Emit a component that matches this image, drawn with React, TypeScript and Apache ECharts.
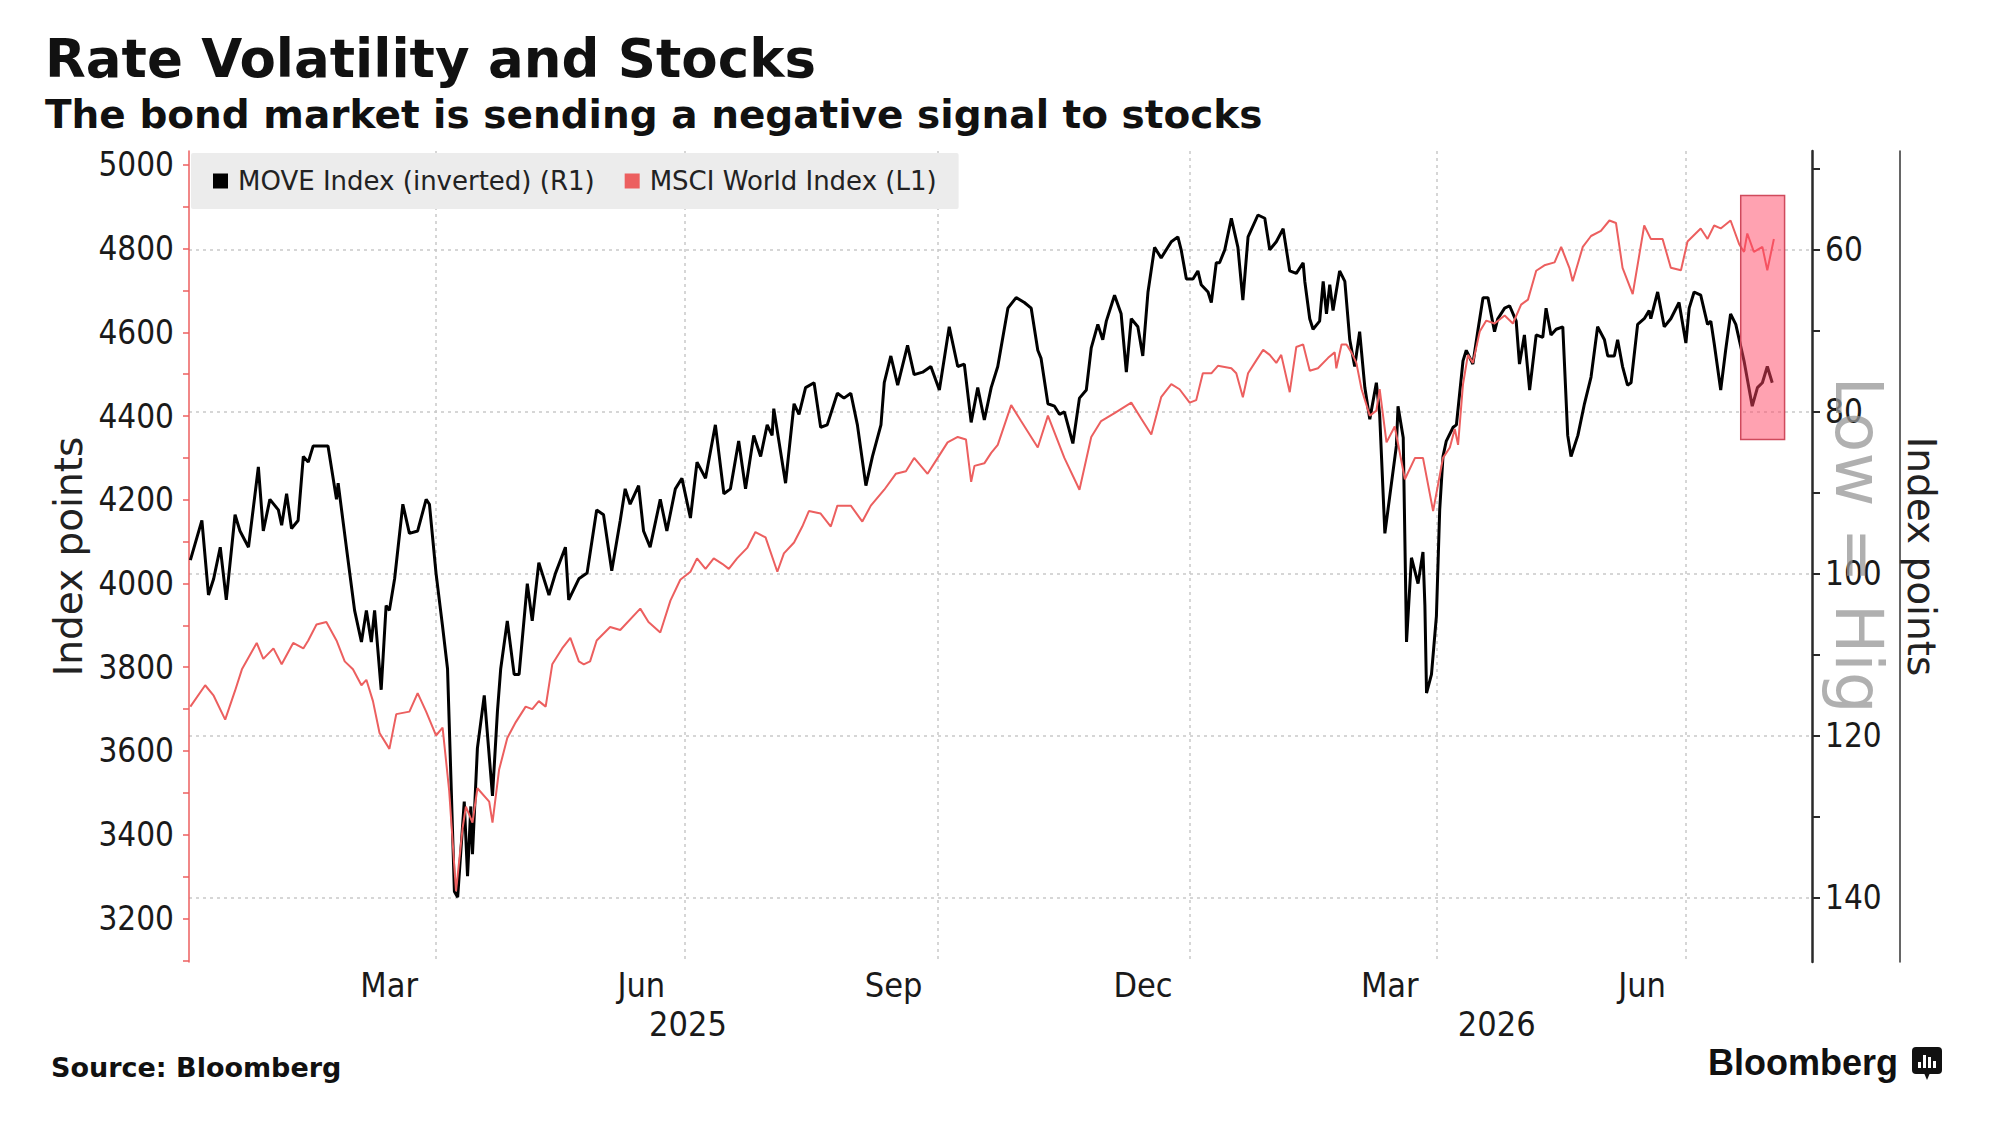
import { useEffect, useRef } from "react";
import * as echarts from "echarts";

// x values are days counted from 1 Jan 2025
const moveDays = [
  0.5, 4.7, 7.1, 9.0, 11.4, 13.6, 16.8, 18.6, 21.7, 25.3, 27.1, 29.5, 32.6, 33.8, 35.6, 37.4, 39.8, 41.7, 43.5, 45.3,
  50.7, 53.8, 54.4, 57.4, 60.4, 62.9, 64.7, 66.5, 67.7, 70.1, 71.9, 73.1, 75.0, 78.0, 80.4, 83.4, 86.5, 87.7, 90.1, 92.5,
  94.3, 95.5, 96.8, 98.0, 100.4, 101.6, 102.8, 103.4, 105.2, 107.7, 110.7, 112.5, 113.7, 116.1, 118.6, 120.4, 123.4, 125.2, 127.6, 131.3,
  133.7, 137.3, 138.5, 142.2, 145.2, 148.7, 151.2, 154.2, 157.3, 159.1, 160.9, 164.0, 165.8, 168.2, 171.9, 174.3, 177.4, 179.8, 182.9, 185.3,
  188.4, 192.0, 195.1, 197.5, 200.5, 203.0, 206.0, 208.5, 210.9, 212.7, 213.3, 217.6, 220.7, 222.5, 224.9, 228.0, 230.4, 232.8, 236.5, 238.9,
  241.4, 243.8, 246.9, 249.3, 252.4, 253.6, 256.0, 258.5, 262.1, 264.5, 267.6, 270.6, 273.7, 277.3, 280.4, 282.8, 285.3, 287.7, 290.1, 292.6,
  295.0, 298.7, 301.7, 304.7, 307.2, 309.6, 310.8, 313.3, 315.7, 317.5, 319.3, 322.4, 324.8, 327.3, 329.1, 331.5, 333.3, 334.6, 337.6, 340.0,
  341.9, 343.7, 346.1, 347.9, 349.8, 352.2, 354.6, 358.3, 360.7, 361.9, 363.8, 366.2, 368.0, 369.2, 371.7, 372.9, 374.7, 375.9, 377.8, 380.2,
  382.6, 384.4, 386.3, 389.9, 392.4, 394.2, 396.6, 399.1, 401.5, 403.9, 406.4, 407.0, 408.8, 410.0, 412.4, 413.7, 414.9, 416.1, 417.3, 419.7,
  421.6, 423.4, 425.2, 427.0, 428.9, 430.7, 433.1, 434.3, 436.2, 440.4, 441.0, 442.9, 444.1, 445.9, 448.3, 450.1, 450.8, 451.4, 453.2, 455.0,
  456.2, 457.4, 458.6, 461.1, 462.3, 464.7, 465.9, 468.3, 470.2, 472.0, 473.8, 476.2, 477.4, 479.9, 481.7, 484.1, 485.3, 487.1, 489.0, 491.4,
  493.8, 495.0, 496.8, 498.7, 501.1, 502.9, 504.1, 506.6, 509.0, 511.4, 513.8, 516.3, 517.5, 519.9, 521.1, 522.9, 524.7, 526.0, 528.4, 530.8,
  532.6, 533.2, 535.7, 538.1, 540.5, 543.5, 546.0, 547.2, 549.0, 551.4, 553.9, 555.1, 556.3, 558.7, 560.5, 562.3, 564.2, 567.2, 570.2, 572.1,
  573.9, 575.7, 577.5,
];
const moveValues = [
  98.3, 93.4, 102.6, 100.6, 96.7, 103.2, 92.7, 94.7, 96.7, 86.8, 94.7, 90.8, 92.1, 94.0, 90.1, 94.4, 93.4, 85.5, 86.2, 84.2,
  84.2, 90.8, 88.8, 96.7, 104.5, 108.4, 104.5, 108.4, 104.5, 114.3, 103.9, 104.5, 100.6, 91.4, 95.0, 94.7, 90.8, 91.4, 99.9, 106.5,
  111.7, 124.8, 139.2, 139.9, 128.1, 137.3, 128.7, 134.6, 121.5, 115.0, 127.4, 117.0, 111.7, 105.8, 112.4, 112.4, 101.2, 105.8, 98.6, 102.6,
  99.9, 96.7, 103.2, 100.6, 99.9, 92.1, 92.7, 99.6, 93.4, 89.5, 91.4, 89.1, 94.7, 96.7, 90.8, 94.7, 89.5, 88.2, 93.1, 86.2,
  88.2, 81.6, 90.1, 89.5, 83.6, 89.5, 82.9, 85.5, 81.6, 82.9, 79.6, 88.8, 79.0, 80.3, 77.0, 76.4, 81.9, 81.6, 77.7, 78.3,
  77.7, 81.6, 89.1, 85.5, 81.6, 76.4, 73.1, 76.7, 71.8, 75.4, 75.1, 74.4, 77.3, 69.5, 74.4, 74.1, 81.3, 77.0, 81.0, 77.0,
  74.4, 67.2, 65.9, 66.5, 67.2, 72.4, 73.4, 79.0, 79.3, 80.3, 80.0, 83.9, 78.3, 77.3, 72.1, 69.2, 71.1, 68.8, 65.6, 67.9,
  75.1, 68.5, 69.5, 73.1, 65.2, 59.7, 61.0, 59.0, 58.4, 60.0, 63.6, 63.6, 62.6, 64.3, 65.2, 66.5, 61.6, 61.6, 60.0, 56.1,
  59.7, 66.2, 58.4, 55.7, 56.1, 60.0, 59.0, 57.4, 62.6, 62.9, 61.6, 63.9, 68.5, 69.8, 68.8, 63.9, 67.9, 64.3, 67.5, 62.6,
  63.9, 71.1, 74.4, 70.1, 77.0, 80.9, 76.4, 80.3, 95.0, 84.2, 79.3, 83.2, 108.4, 98.0, 101.2, 97.3, 103.9, 114.7, 112.4, 105.2,
  92.1, 85.5, 83.6, 81.9, 81.6, 73.7, 72.4, 74.1, 69.8, 65.9, 65.9, 70.1, 68.5, 67.2, 66.9, 68.8, 74.1, 70.5, 77.3, 70.5,
  70.8, 67.2, 70.5, 69.8, 69.5, 82.9, 85.5, 82.9, 79.0, 75.7, 69.5, 71.1, 73.1, 73.1, 71.1, 74.4, 76.7, 76.4, 69.2, 68.5,
  67.5, 68.5, 65.2, 69.5, 68.5, 66.5, 71.5, 67.2, 65.2, 65.6, 69.2, 68.8, 71.5, 77.3, 72.4, 67.9, 69.2, 73.7, 79.3, 77.0,
  76.4, 74.4, 76.4,
];

const msciDays = [
  0.5, 5.9, 9.0, 13.2, 16.8, 19.3, 24.7, 27.1, 30.8, 33.8, 38.0, 41.7, 43.5, 46.5, 50.1, 53.8, 56.8, 59.8, 62.9, 64.7,
  67.1, 69.5, 73.1, 75.6, 80.4, 83.4, 86.5, 90.1, 92.5, 94.9, 97.4, 99.8, 101.0, 103.4, 105.2, 109.5, 110.7, 113.1, 116.1, 119.2,
  122.8, 125.2, 127.6, 130.1, 132.5, 136.1, 139.1, 142.2, 144.0, 146.3, 148.7, 153.6, 157.3, 164.6, 167.6, 171.9, 175.6, 179.2, 182.9, 185.3,
  188.4, 191.4, 194.5, 196.9, 199.9, 203.6, 206.6, 210.3, 214.6, 217.0, 220.7, 223.7, 226.1, 230.4, 234.1, 236.5, 241.4, 245.6, 248.7, 253.6,
  257.8, 261.5, 264.5, 269.4, 273.1, 276.7, 280.4, 283.4, 285.3, 286.5, 290.1, 292.6, 295.0, 299.9, 303.5, 309.6, 313.3, 319.3, 324.8, 329.1,
  332.7, 337.6, 343.7, 347.3, 351.0, 354.6, 358.3, 361.3, 365.0, 367.4, 369.8, 372.9, 375.3, 380.2, 382.0, 384.4, 386.3, 389.3, 391.8, 394.2,
  396.6, 398.4, 401.5, 403.9, 406.4, 408.8, 411.8, 415.5, 417.9, 418.5, 420.4, 422.2, 424.0, 425.8, 427.7, 430.7, 433.1, 434.3, 436.8, 439.8,
  443.5, 447.2, 450.1, 453.8, 457.4, 459.9, 461.7, 462.9, 464.7, 466.5, 468.3, 470.8, 473.2, 476.2, 479.9, 482.9, 485.9, 488.4, 491.4, 494.4,
  498.1, 500.5, 503.5, 504.7, 508.4, 511.4, 515.0, 518.1, 520.5, 522.9, 526.6, 530.8, 533.2, 537.5, 540.5, 544.2, 546.6, 551.4, 553.9, 556.3,
  558.7, 562.3, 565.4, 567.2, 568.4, 570.8, 573.9, 575.7, 578.1,
];
const msciValues = [
  3706, 3757, 3732, 3675, 3744, 3795, 3858, 3820, 3845, 3807, 3858, 3845, 3864, 3902, 3908, 3864, 3814, 3795, 3757, 3770,
  3719, 3643, 3605, 3688, 3694, 3738, 3694, 3637, 3656, 3505, 3265, 3416, 3467, 3429, 3511, 3479, 3429, 3555, 3631, 3669,
  3706, 3700, 3719, 3706, 3807, 3845, 3870, 3814, 3807, 3814, 3864, 3896, 3889, 3940, 3908, 3883, 3959, 4009, 4028, 4060,
  4035, 4060, 4047, 4035, 4060, 4085, 4123, 4110, 4028, 4072, 4098, 4136, 4173, 4167, 4136, 4186, 4186, 4148, 4186, 4224,
  4262, 4268, 4300, 4262, 4300, 4337, 4350, 4344, 4243, 4281, 4287, 4312, 4331, 4426, 4388, 4325, 4401, 4300, 4224, 4350,
  4388, 4407, 4432, 4394, 4356, 4445, 4476, 4464, 4432, 4438, 4502, 4502, 4520, 4514, 4502, 4445, 4502, 4533, 4558, 4546,
  4527, 4546, 4457, 4565, 4571, 4508, 4514, 4539, 4552, 4514, 4571, 4571, 4552, 4527, 4464, 4401, 4413, 4464, 4337, 4375,
  4249, 4300, 4300, 4173, 4300, 4325, 4369, 4331, 4476, 4546, 4527, 4602, 4628, 4621, 4640, 4621, 4666, 4678, 4747, 4760,
  4767, 4804, 4754, 4722, 4804, 4830, 4842, 4867, 4861, 4754, 4691, 4855, 4823, 4823, 4754, 4748, 4817, 4848, 4823, 4855,
  4848, 4867, 4811, 4792, 4836, 4792, 4804, 4748, 4823,
];

const gridDays = [90, 181, 273, 365, 455, 546];
const monthLabelDays = [73, 165, 257, 348, 438, 530];
const monthLabels = ["Mar", "Jun", "Sep", "Dec", "Mar", "Jun"];
const yearLabelDays = [182, 477];
const yearLabels = ["2025", "2026"];

const leftTicks = [
  3100, 3200, 3300, 3400, 3500, 3600, 3700, 3800, 3900, 4000,
  4100, 4200, 4300, 4400, 4500, 4600, 4700, 4800, 4900, 5000,
];
const leftLabels = [3200, 3400, 3600, 3800, 4000, 4200, 4400, 4600, 4800, 5000];
const rightTicks = [50, 60, 70, 80, 90, 100, 110, 120, 130, 140];
const rightLabels = [60, 80, 100, 120, 140];
const rightGrid = [60, 80, 100, 120, 140];

const highlightDays = [566, 582];
const highlightMove = [53.3, 83.4];

const MOVE_NAME = "MOVE Index (inverted) (R1)";
const MSCI_NAME = "MSCI World Index (L1)";

const NARROW = "'Liberation Sans Narrow', 'DejaVu Sans Condensed', sans-serif";
const SANS = "'DejaVu Sans', sans-serif";
const RED = "#ec5f5f";

function pick(days: number[], labels: string[], v: number) {
  const i = days.findIndex((d) => Math.abs(d - v) < 0.01);
  return i >= 0 ? labels[i] : "";
}

function RateChart() {
  const chartRef = useRef<HTMLDivElement>(null);

  useEffect(() => {
    if (!chartRef.current) return;
    document.body.style.margin = "0";
    const chart = echarts.init(chartRef.current, undefined, { renderer: "svg" });

    const moveData = moveDays.map((d, i) => [d, moveValues[i]]);
    const msciData = msciDays.map((d, i) => [d, msciValues[i]]);

    const dotted = { color: "#c9c9c9", width: 1.5, type: [3, 4] as number[] };
    const plain = (v: number) => String(v);

    const option: any = {
      animation: false,
      backgroundColor: "#fff",
      grid: { left: 189, right: 188, top: 151, bottom: 175, containLabel: false },
      legend: {
        data: [MOVE_NAME, MSCI_NAME],
        left: 191,
        top: 153,
        icon: "rect",
        itemWidth: 15,
        itemHeight: 15,
        itemGap: 30,
        padding: [15, 22],
        backgroundColor: "#ececec",
        borderRadius: 2,
        textStyle: { fontFamily: SANS, fontSize: 26, color: "#222", padding: [0, 0, 0, 5] },
      },
      xAxis: [
        {
          type: "value",
          min: 0,
          max: 592,
          position: "bottom",
          axisLine: { show: false, onZero: false },
          axisTick: { show: false, customValues: gridDays },
          splitLine: { show: true, lineStyle: dotted },
          axisLabel: {
            customValues: monthLabelDays,
            formatter: (v: number) => pick(monthLabelDays, monthLabels, v),
            fontFamily: NARROW,
            fontSize: 34,
            color: "#1a1a1a",
            margin: 6,
          },
        },
        {
          type: "value",
          min: 0,
          max: 592,
          position: "bottom",
          offset: 39,
          axisLine: { show: false, onZero: false },
          axisTick: { show: false },
          splitLine: { show: false },
          axisLabel: {
            customValues: yearLabelDays,
            formatter: (v: number) => pick(yearLabelDays, yearLabels, v),
            fontFamily: NARROW,
            fontSize: 34,
            color: "#1a1a1a",
            margin: 6,
          },
        },
      ],
      yAxis: [
        {
          type: "value",
          position: "left",
          min: 3096,
          max: 5033,
          name: "Index points",
          nameLocation: "middle",
          nameRotate: 90,
          nameGap: 92,
          nameTextStyle: { fontFamily: SANS, fontSize: 39, color: "#222" },
          axisLine: { show: true, onZero: false, lineStyle: { color: RED, width: 1.5 } },
          axisTick: { show: true, customValues: leftTicks, length: 6, lineStyle: { color: RED, width: 1.5 } },
          axisLabel: {
            customValues: leftLabels,
            formatter: plain,
            fontFamily: NARROW,
            fontSize: 33,
            color: "#1a1a1a",
            margin: 15,
          },
          splitLine: { show: false },
        },
        {
          type: "value",
          position: "right",
          inverse: true,
          min: 47.8,
          max: 147.9,
          axisLine: { show: true, onZero: false, lineStyle: { color: "#2a2a2a", width: 2.5 } },
          axisTick: { show: true, customValues: rightTicks, length: 8, lineStyle: { color: "#2a2a2a", width: 2 } },
          axisLabel: {
            customValues: rightLabels,
            formatter: plain,
            fontFamily: NARROW,
            fontSize: 33,
            color: "#1a1a1a",
            margin: 13,
          },
          splitLine: { show: false },
        },
        {
          type: "value",
          position: "right",
          offset: 88,
          min: 0,
          max: 1,
          name: "Index points",
          nameLocation: "middle",
          nameRotate: -90,
          nameGap: 2,
          nameTextStyle: { fontFamily: SANS, fontSize: 39, color: "#222" },
          axisLine: { show: true, onZero: false, lineStyle: { color: "#333", width: 1.5 } },
          axisTick: { show: false },
          axisLabel: { show: false },
          splitLine: { show: false },
        },
        {
          type: "value",
          position: "right",
          inverse: true,
          min: 47.8,
          max: 147.9,
          axisLine: { show: false, onZero: false },
          axisTick: { show: false, customValues: rightGrid },
          axisLabel: { show: false },
          splitLine: { show: true, lineStyle: dotted },
        },
      ],
      series: [
        {
          name: MOVE_NAME,
          type: "line",
          xAxisIndex: 0,
          yAxisIndex: 1,
          data: moveData,
          showSymbol: false,
          symbol: "none",
          lineStyle: { color: "#000", width: 3 },
          itemStyle: { color: "#000" },
          z: 3,
        },
        {
          name: MSCI_NAME,
          type: "line",
          xAxisIndex: 0,
          yAxisIndex: 0,
          data: msciData,
          showSymbol: false,
          symbol: "none",
          lineStyle: { color: RED, width: 2 },
          itemStyle: { color: RED },
          z: 4,
        },
        {
          name: "highlight",
          type: "line",
          xAxisIndex: 0,
          yAxisIndex: 1,
          data: [],
          z: 10,
          markArea: {
            silent: true,
            z: 10,
            itemStyle: { color: "rgba(255, 70, 100, 0.5)", borderColor: "#cf4a5c", borderWidth: 1.5 },
            data: [
              [
                { coord: [highlightDays[0], highlightMove[0]] },
                { coord: [highlightDays[1], highlightMove[1]] },
              ],
            ],
          },
        },
      ],
      graphic: [
        {
          type: "text",
          x: 45,
          y: 58,
          style: {
            text: "Rate Volatility and Stocks",
            fontFamily: SANS,
            fontWeight: "bold",
            fontSize: 53,
            fill: "#111",
            verticalAlign: "middle",
          },
        },
        {
          type: "text",
          x: 45,
          y: 114,
          style: {
            text: "The bond market is sending a negative signal to stocks",
            fontFamily: SANS,
            fontWeight: "bold",
            fontSize: 39,
            fill: "#111",
            verticalAlign: "middle",
          },
        },
        {
          type: "text",
          x: 1858,
          y: 545,
          rotation: -Math.PI / 2,
          z: 20,
          style: {
            text: "Low = Hig",
            fontFamily: SANS,
            fontSize: 66,
            fill: "rgba(150, 150, 150, 0.75)",
            align: "center",
            verticalAlign: "middle",
          },
        },
        {
          type: "text",
          x: 51,
          y: 1067,
          style: {
            text: "Source: Bloomberg",
            fontFamily: SANS,
            fontWeight: "bold",
            fontSize: 27,
            fill: "#111",
            verticalAlign: "middle",
          },
        },
        {
          type: "text",
          x: 1708,
          y: 1062,
          style: {
            text: "Bloomberg",
            fontFamily: "'Liberation Sans', sans-serif",
            fontWeight: "bold",
            fontSize: 36,
            fill: "#111",
            verticalAlign: "middle",
          },
        },
        {
          type: "group",
          x: 1912,
          y: 1047,
          children: [
            { type: "rect", shape: { x: 0, y: 0, width: 30, height: 27, r: 4 }, style: { fill: "#111" } },
            { type: "polygon", shape: { points: [[12, 26], [18, 26], [15, 33]] }, style: { fill: "#111" } },
            { type: "rect", shape: { x: 6, y: 15, width: 3, height: 6 }, style: { fill: "#fff" } },
            { type: "rect", shape: { x: 11, y: 8, width: 3, height: 13 }, style: { fill: "#fff" } },
            { type: "rect", shape: { x: 16, y: 10, width: 3, height: 11 }, style: { fill: "#fff" } },
            { type: "rect", shape: { x: 21, y: 14, width: 3, height: 7 }, style: { fill: "#fff" } },
          ],
        },
      ],
    };

    chart.setOption(option);

    return () => {
      chart.dispose();
    };
  }, []);

  return <div ref={chartRef} style={{ width: "2000px", height: "1137px" }} />;
}

export default function App() {
  return <RateChart />;
}
